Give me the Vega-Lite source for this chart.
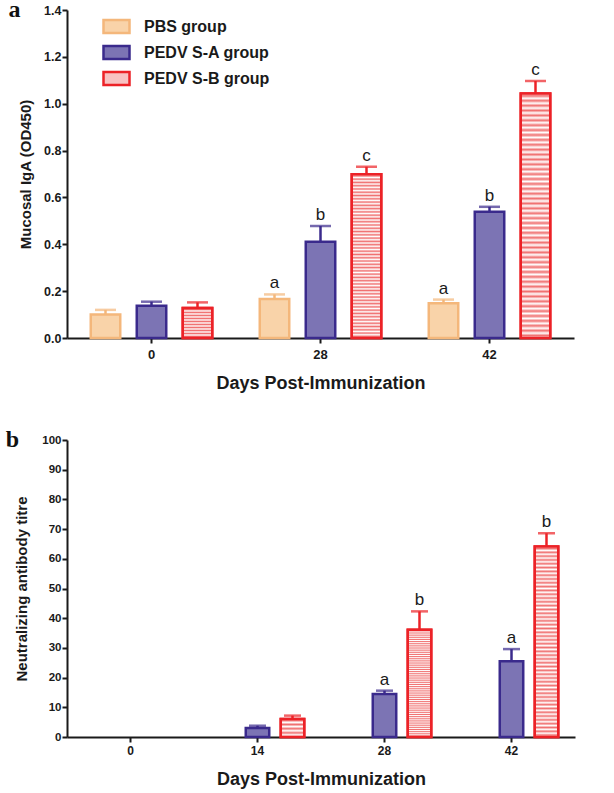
{
  "$schema": "https://vega.github.io/schema/vega-lite/v6.json",
  "padding": {"left": 5, "top": -2, "right": 5, "bottom": 5},
  "spacing": 36,
  "config": {
    "font": "Liberation Sans",
    "view": {"stroke": null},
    "axis": {
      "grid": false,
      "domainColor": "#1a1a1a",
      "domainWidth": 2,
      "tickColor": "#1a1a1a",
      "tickWidth": 2,
      "tickSize": 5,
      "labelColor": "#1a1a1a",
      "labelFont": "Liberation Sans",
      "labelFontWeight": "bold",
      "labelOverlap": false,
      "titleColor": "#1a1a1a",
      "titleFont": "Liberation Sans",
      "titleFontWeight": "bold"
    }
  },
  "datasets": {
    "iga": [
      {"day": "0", "group": "PBS group", "mean": 0.10, "upper": 0.12, "letter": ""},
      {"day": "0", "group": "PEDV S-A group", "mean": 0.138, "upper": 0.155, "letter": ""},
      {"day": "0", "group": "PEDV S-B group", "mean": 0.128, "upper": 0.152, "letter": ""},
      {"day": "28", "group": "PBS group", "mean": 0.166, "upper": 0.186, "letter": "a"},
      {"day": "28", "group": "PEDV S-A group", "mean": 0.411, "upper": 0.478, "letter": "b"},
      {"day": "28", "group": "PEDV S-B group", "mean": 0.699, "upper": 0.731, "letter": "c"},
      {"day": "42", "group": "PBS group", "mean": 0.148, "upper": 0.164, "letter": "a"},
      {"day": "42", "group": "PEDV S-A group", "mean": 0.539, "upper": 0.560, "letter": "b"},
      {"day": "42", "group": "PEDV S-B group", "mean": 1.044, "upper": 1.097, "letter": "c"}
    ],
    "nab": [
      {"day": "14", "group": "PEDV S-A group", "mean": 3.0, "upper": 3.8, "letter": ""},
      {"day": "14", "group": "PEDV S-B group", "mean": 6.1, "upper": 7.2, "letter": ""},
      {"day": "28", "group": "PEDV S-A group", "mean": 14.5, "upper": 15.6, "letter": "a"},
      {"day": "28", "group": "PEDV S-B group", "mean": 36.1, "upper": 42.3, "letter": "b"},
      {"day": "42", "group": "PEDV S-A group", "mean": 25.5, "upper": 29.6, "letter": "a"},
      {"day": "42", "group": "PEDV S-B group", "mean": 64.1, "upper": 68.6, "letter": "b"}
    ]
  },
  "resolve": {
    "scale": {"fill": "independent", "stroke": "independent", "color": "independent", "x": "independent", "y": "independent", "xOffset": "independent"},
    "legend": {"fill": "independent", "stroke": "independent", "color": "independent"}
  },
  "vconcat": [
    {
      "width": 507,
      "height": 328,
      "title": {"text": "a", "font": "Liberation Serif", "fontSize": 24, "fontWeight": "bold", "color": "#111", "anchor": "start", "frame": "bounds", "orient": "top", "offset": -18, "dx": -10},
      "data": {"name": "iga"},
      "encoding": {
        "x": {"field": "day", "type": "nominal", "sort": ["0", "28", "42"], "scale": {"paddingInner": 0, "paddingOuter": 0},
              "axis": {"title": "Days Post-Immunization", "labelAngle": 0, "labelFontSize": 13, "labelPadding": 5, "titleFontSize": 18, "titlePadding": 13}},
        "xOffset": {"field": "group", "type": "nominal", "scale": {"domain": ["PBS group", "PEDV S-A group", "PEDV S-B group"], "paddingInner": 0.359, "paddingOuter": 0.5165}}
      },
      "layer": [
        {
          "mark": {"type": "bar", "strokeWidth": 2.5},
          "encoding": {
            "y": {"field": "mean", "type": "quantitative", "scale": {"domain": [0, 1.4]},
                  "axis": {"title": "Mucosal IgA (OD450)", "values": [0, 0.2, 0.4, 0.6, 0.8, 1.0, 1.2, 1.4], "format": ".1f", "labelOverlap": false, "labelFontSize": 12.5, "labelPadding": 1, "titleFontSize": 15, "titlePadding": 10}},
            "fill": {"field": "group", "type": "nominal", "scale": {"domain": ["PBS group", "PEDV S-A group", "PEDV S-B group"], "range": ["#f9d3a9", "#7c74b4", "#f8c2c2"]},
                     "legend": {"title": null, "orient": "none", "legendX": 35, "legendY": 2, "padding": 0, "symbolType": "M-1,-0.5H1V0.5H-1Z", "symbolSize": 676, "symbolStrokeWidth": 2.5, "labelFont": "Liberation Sans", "labelFontSize": 16, "labelFontWeight": "bold", "labelColor": "#1a1a1a", "labelOffset": 13, "rowPadding": -4}},
            "stroke": {"field": "group", "type": "nominal", "scale": {"domain": ["PBS group", "PEDV S-A group", "PEDV S-B group"], "range": ["#f4b77b", "#3a2a8c", "#ec2227"]},
                       "legend": {"title": null, "orient": "none", "legendX": 35, "legendY": 2, "padding": 0, "symbolType": "M-1,-0.5H1V0.5H-1Z", "symbolSize": 676, "symbolStrokeWidth": 2.5, "labelFont": "Liberation Sans", "labelFontSize": 16, "labelFontWeight": "bold", "labelColor": "#1a1a1a", "labelOffset": 13, "rowPadding": -4}}
          }
        },
        {
          "transform": [{"filter": "datum.group === 'PEDV S-B group'"}],
          "mark": {"type": "bar", "strokeWidth": 2.5, "stroke": "#ec2227",
                   "fill": {"gradient": "linear", "x1": 0, "y1": 0, "x2": 0, "y2": 1, "stops": [
                     {"offset": 0.00, "color": "#ffffff"}, {"offset": 0.01, "color": "#f07070"}, {"offset": 0.02, "color": "#ffffff"}, {"offset": 0.03, "color": "#f07070"}, {"offset": 0.04, "color": "#ffffff"}, {"offset": 0.05, "color": "#f07070"}, {"offset": 0.06, "color": "#ffffff"}, {"offset": 0.07, "color": "#f07070"}, {"offset": 0.08, "color": "#ffffff"}, {"offset": 0.09, "color": "#f07070"},
                     {"offset": 0.10, "color": "#ffffff"}, {"offset": 0.11, "color": "#f07070"}, {"offset": 0.12, "color": "#ffffff"}, {"offset": 0.13, "color": "#f07070"}, {"offset": 0.14, "color": "#ffffff"}, {"offset": 0.15, "color": "#f07070"}, {"offset": 0.16, "color": "#ffffff"}, {"offset": 0.17, "color": "#f07070"}, {"offset": 0.18, "color": "#ffffff"}, {"offset": 0.19, "color": "#f07070"},
                     {"offset": 0.20, "color": "#ffffff"}, {"offset": 0.21, "color": "#f07070"}, {"offset": 0.22, "color": "#ffffff"}, {"offset": 0.23, "color": "#f07070"}, {"offset": 0.24, "color": "#ffffff"}, {"offset": 0.25, "color": "#f07070"}, {"offset": 0.26, "color": "#ffffff"}, {"offset": 0.27, "color": "#f07070"}, {"offset": 0.28, "color": "#ffffff"}, {"offset": 0.29, "color": "#f07070"},
                     {"offset": 0.30, "color": "#ffffff"}, {"offset": 0.31, "color": "#f07070"}, {"offset": 0.32, "color": "#ffffff"}, {"offset": 0.33, "color": "#f07070"}, {"offset": 0.34, "color": "#ffffff"}, {"offset": 0.35, "color": "#f07070"}, {"offset": 0.36, "color": "#ffffff"}, {"offset": 0.37, "color": "#f07070"}, {"offset": 0.38, "color": "#ffffff"}, {"offset": 0.39, "color": "#f07070"},
                     {"offset": 0.40, "color": "#ffffff"}, {"offset": 0.41, "color": "#f07070"}, {"offset": 0.42, "color": "#ffffff"}, {"offset": 0.43, "color": "#f07070"}, {"offset": 0.44, "color": "#ffffff"}, {"offset": 0.45, "color": "#f07070"}, {"offset": 0.46, "color": "#ffffff"}, {"offset": 0.47, "color": "#f07070"}, {"offset": 0.48, "color": "#ffffff"}, {"offset": 0.49, "color": "#f07070"},
                     {"offset": 0.50, "color": "#ffffff"}, {"offset": 0.51, "color": "#f07070"}, {"offset": 0.52, "color": "#ffffff"}, {"offset": 0.53, "color": "#f07070"}, {"offset": 0.54, "color": "#ffffff"}, {"offset": 0.55, "color": "#f07070"}, {"offset": 0.56, "color": "#ffffff"}, {"offset": 0.57, "color": "#f07070"}, {"offset": 0.58, "color": "#ffffff"}, {"offset": 0.59, "color": "#f07070"},
                     {"offset": 0.60, "color": "#ffffff"}, {"offset": 0.61, "color": "#f07070"}, {"offset": 0.62, "color": "#ffffff"}, {"offset": 0.63, "color": "#f07070"}, {"offset": 0.64, "color": "#ffffff"}, {"offset": 0.65, "color": "#f07070"}, {"offset": 0.66, "color": "#ffffff"}, {"offset": 0.67, "color": "#f07070"}, {"offset": 0.68, "color": "#ffffff"}, {"offset": 0.69, "color": "#f07070"},
                     {"offset": 0.70, "color": "#ffffff"}, {"offset": 0.71, "color": "#f07070"}, {"offset": 0.72, "color": "#ffffff"}, {"offset": 0.73, "color": "#f07070"}, {"offset": 0.74, "color": "#ffffff"}, {"offset": 0.75, "color": "#f07070"}, {"offset": 0.76, "color": "#ffffff"}, {"offset": 0.77, "color": "#f07070"}, {"offset": 0.78, "color": "#ffffff"}, {"offset": 0.79, "color": "#f07070"},
                     {"offset": 0.80, "color": "#ffffff"}, {"offset": 0.81, "color": "#f07070"}, {"offset": 0.82, "color": "#ffffff"}, {"offset": 0.83, "color": "#f07070"}, {"offset": 0.84, "color": "#ffffff"}, {"offset": 0.85, "color": "#f07070"}, {"offset": 0.86, "color": "#ffffff"}, {"offset": 0.87, "color": "#f07070"}, {"offset": 0.88, "color": "#ffffff"}, {"offset": 0.89, "color": "#f07070"},
                     {"offset": 0.90, "color": "#ffffff"}, {"offset": 0.91, "color": "#f07070"}, {"offset": 0.92, "color": "#ffffff"}, {"offset": 0.93, "color": "#f07070"}, {"offset": 0.94, "color": "#ffffff"}, {"offset": 0.95, "color": "#f07070"}, {"offset": 0.96, "color": "#ffffff"}, {"offset": 0.97, "color": "#f07070"}, {"offset": 0.98, "color": "#ffffff"}, {"offset": 0.99, "color": "#f07070"},
                     {"offset": 1.00, "color": "#ffffff"}
                   ]}},
          "encoding": {"y": {"field": "mean", "type": "quantitative",
                  "axis": {"title": "Mucosal IgA (OD450)", "values": [0, 0.2, 0.4, 0.6, 0.8, 1.0, 1.2, 1.4], "format": ".1f", "labelOverlap": false, "labelFontSize": 12.5, "labelPadding": 1, "titleFontSize": 15, "titlePadding": 10}}}
        },
        {
          "mark": {"type": "rule", "strokeWidth": 2.5},
          "encoding": {
            "y": {"field": "mean", "type": "quantitative",
                  "axis": {"title": "Mucosal IgA (OD450)", "values": [0, 0.2, 0.4, 0.6, 0.8, 1.0, 1.2, 1.4], "format": ".1f", "labelOverlap": false, "labelFontSize": 12.5, "labelPadding": 1, "titleFontSize": 15, "titlePadding": 10}},
            "y2": {"field": "upper"},
            "stroke": {"field": "group", "type": "nominal"}
          }
        },
        {
          "mark": {"type": "tick", "thickness": 2.5, "size": 21},
          "encoding": {
            "y": {"field": "upper", "type": "quantitative",
                  "axis": {"title": "Mucosal IgA (OD450)", "values": [0, 0.2, 0.4, 0.6, 0.8, 1.0, 1.2, 1.4], "format": ".1f", "labelOverlap": false, "labelFontSize": 12.5, "labelPadding": 1, "titleFontSize": 15, "titlePadding": 10}},
            "color": {"field": "group", "type": "nominal", "scale": {"domain": ["PBS group", "PEDV S-A group", "PEDV S-B group"], "range": ["#f4b77b", "#3a2a8c", "#ec2227"]}, "legend": null}
          }
        },
        {
          "mark": {"type": "text", "fontSize": 17, "dy": -6, "baseline": "alphabetic", "color": "#1a1a1a", "font": "Liberation Sans"},
          "encoding": {
            "y": {"field": "upper", "type": "quantitative",
                  "axis": {"title": "Mucosal IgA (OD450)", "values": [0, 0.2, 0.4, 0.6, 0.8, 1.0, 1.2, 1.4], "format": ".1f", "labelOverlap": false, "labelFontSize": 12.5, "labelPadding": 1, "titleFontSize": 15, "titlePadding": 10}},
            "text": {"field": "letter"}
          }
        }
      ]
    },
    {
      "width": 508,
      "height": 297,
      "title": {"text": "b", "font": "Liberation Serif", "fontSize": 24, "fontWeight": "bold", "color": "#111", "anchor": "start", "frame": "bounds", "orient": "top", "offset": -18, "dx": -9},
      "data": {"name": "nab"},
      "encoding": {
        "x": {"field": "day", "type": "nominal", "scale": {"domain": ["0", "14", "28", "42"], "paddingInner": 0, "paddingOuter": 0},
              "axis": {"title": "Days Post-Immunization", "labelAngle": 0, "labelFontSize": 12, "labelPadding": 3, "titleFontSize": 18, "titlePadding": 14}},
        "xOffset": {"field": "group", "type": "nominal", "scale": {"domain": ["PBS group", "PEDV S-A group", "PEDV S-B group"], "paddingInner": 0.329, "paddingOuter": 0.479}}
      },
      "layer": [
        {
          "mark": {"type": "bar", "strokeWidth": 2.5},
          "encoding": {
            "y": {"field": "mean", "type": "quantitative", "scale": {"domain": [0, 100]},
                  "axis": {"title": "Neutralizing antibody titre", "values": [0, 10, 20, 30, 40, 50, 60, 70, 80, 90, 100], "labelOverlap": false, "labelFontSize": 11.5, "labelPadding": 1, "titleFontSize": 15, "titlePadding": 12}},
            "fill": {"field": "group", "type": "nominal", "scale": {"domain": ["PBS group", "PEDV S-A group", "PEDV S-B group"], "range": ["#f9d3a9", "#7c74b4", "#f8c2c2"]}, "legend": null},
            "stroke": {"field": "group", "type": "nominal", "scale": {"domain": ["PBS group", "PEDV S-A group", "PEDV S-B group"], "range": ["#f4b77b", "#3a2a8c", "#ec2227"]}, "legend": null}
          }
        },
        {
          "transform": [{"filter": "datum.group === 'PEDV S-B group'"}],
          "mark": {"type": "bar", "strokeWidth": 2.5, "stroke": "#ec2227",
                   "fill": {"gradient": "linear", "x1": 0, "y1": 0, "x2": 0, "y2": 1, "stops": [
                     {"offset": 0.00, "color": "#ffffff"}, {"offset": 0.01, "color": "#f07070"}, {"offset": 0.02, "color": "#ffffff"}, {"offset": 0.03, "color": "#f07070"}, {"offset": 0.04, "color": "#ffffff"}, {"offset": 0.05, "color": "#f07070"}, {"offset": 0.06, "color": "#ffffff"}, {"offset": 0.07, "color": "#f07070"}, {"offset": 0.08, "color": "#ffffff"}, {"offset": 0.09, "color": "#f07070"},
                     {"offset": 0.10, "color": "#ffffff"}, {"offset": 0.11, "color": "#f07070"}, {"offset": 0.12, "color": "#ffffff"}, {"offset": 0.13, "color": "#f07070"}, {"offset": 0.14, "color": "#ffffff"}, {"offset": 0.15, "color": "#f07070"}, {"offset": 0.16, "color": "#ffffff"}, {"offset": 0.17, "color": "#f07070"}, {"offset": 0.18, "color": "#ffffff"}, {"offset": 0.19, "color": "#f07070"},
                     {"offset": 0.20, "color": "#ffffff"}, {"offset": 0.21, "color": "#f07070"}, {"offset": 0.22, "color": "#ffffff"}, {"offset": 0.23, "color": "#f07070"}, {"offset": 0.24, "color": "#ffffff"}, {"offset": 0.25, "color": "#f07070"}, {"offset": 0.26, "color": "#ffffff"}, {"offset": 0.27, "color": "#f07070"}, {"offset": 0.28, "color": "#ffffff"}, {"offset": 0.29, "color": "#f07070"},
                     {"offset": 0.30, "color": "#ffffff"}, {"offset": 0.31, "color": "#f07070"}, {"offset": 0.32, "color": "#ffffff"}, {"offset": 0.33, "color": "#f07070"}, {"offset": 0.34, "color": "#ffffff"}, {"offset": 0.35, "color": "#f07070"}, {"offset": 0.36, "color": "#ffffff"}, {"offset": 0.37, "color": "#f07070"}, {"offset": 0.38, "color": "#ffffff"}, {"offset": 0.39, "color": "#f07070"},
                     {"offset": 0.40, "color": "#ffffff"}, {"offset": 0.41, "color": "#f07070"}, {"offset": 0.42, "color": "#ffffff"}, {"offset": 0.43, "color": "#f07070"}, {"offset": 0.44, "color": "#ffffff"}, {"offset": 0.45, "color": "#f07070"}, {"offset": 0.46, "color": "#ffffff"}, {"offset": 0.47, "color": "#f07070"}, {"offset": 0.48, "color": "#ffffff"}, {"offset": 0.49, "color": "#f07070"},
                     {"offset": 0.50, "color": "#ffffff"}, {"offset": 0.51, "color": "#f07070"}, {"offset": 0.52, "color": "#ffffff"}, {"offset": 0.53, "color": "#f07070"}, {"offset": 0.54, "color": "#ffffff"}, {"offset": 0.55, "color": "#f07070"}, {"offset": 0.56, "color": "#ffffff"}, {"offset": 0.57, "color": "#f07070"}, {"offset": 0.58, "color": "#ffffff"}, {"offset": 0.59, "color": "#f07070"},
                     {"offset": 0.60, "color": "#ffffff"}, {"offset": 0.61, "color": "#f07070"}, {"offset": 0.62, "color": "#ffffff"}, {"offset": 0.63, "color": "#f07070"}, {"offset": 0.64, "color": "#ffffff"}, {"offset": 0.65, "color": "#f07070"}, {"offset": 0.66, "color": "#ffffff"}, {"offset": 0.67, "color": "#f07070"}, {"offset": 0.68, "color": "#ffffff"}, {"offset": 0.69, "color": "#f07070"},
                     {"offset": 0.70, "color": "#ffffff"}, {"offset": 0.71, "color": "#f07070"}, {"offset": 0.72, "color": "#ffffff"}, {"offset": 0.73, "color": "#f07070"}, {"offset": 0.74, "color": "#ffffff"}, {"offset": 0.75, "color": "#f07070"}, {"offset": 0.76, "color": "#ffffff"}, {"offset": 0.77, "color": "#f07070"}, {"offset": 0.78, "color": "#ffffff"}, {"offset": 0.79, "color": "#f07070"},
                     {"offset": 0.80, "color": "#ffffff"}, {"offset": 0.81, "color": "#f07070"}, {"offset": 0.82, "color": "#ffffff"}, {"offset": 0.83, "color": "#f07070"}, {"offset": 0.84, "color": "#ffffff"}, {"offset": 0.85, "color": "#f07070"}, {"offset": 0.86, "color": "#ffffff"}, {"offset": 0.87, "color": "#f07070"}, {"offset": 0.88, "color": "#ffffff"}, {"offset": 0.89, "color": "#f07070"},
                     {"offset": 0.90, "color": "#ffffff"}, {"offset": 0.91, "color": "#f07070"}, {"offset": 0.92, "color": "#ffffff"}, {"offset": 0.93, "color": "#f07070"}, {"offset": 0.94, "color": "#ffffff"}, {"offset": 0.95, "color": "#f07070"}, {"offset": 0.96, "color": "#ffffff"}, {"offset": 0.97, "color": "#f07070"}, {"offset": 0.98, "color": "#ffffff"}, {"offset": 0.99, "color": "#f07070"},
                     {"offset": 1.00, "color": "#ffffff"}
                   ]}},
          "encoding": {"y": {"field": "mean", "type": "quantitative",
                  "axis": {"title": "Neutralizing antibody titre", "values": [0, 10, 20, 30, 40, 50, 60, 70, 80, 90, 100], "labelOverlap": false, "labelFontSize": 11.5, "labelPadding": 1, "titleFontSize": 15, "titlePadding": 12}}}
        },
        {
          "mark": {"type": "rule", "strokeWidth": 2.5},
          "encoding": {
            "y": {"field": "mean", "type": "quantitative",
                  "axis": {"title": "Neutralizing antibody titre", "values": [0, 10, 20, 30, 40, 50, 60, 70, 80, 90, 100], "labelOverlap": false, "labelFontSize": 11.5, "labelPadding": 1, "titleFontSize": 15, "titlePadding": 12}},
            "y2": {"field": "upper"},
            "stroke": {"field": "group", "type": "nominal"}
          }
        },
        {
          "mark": {"type": "tick", "thickness": 2.5, "size": 17},
          "encoding": {
            "y": {"field": "upper", "type": "quantitative",
                  "axis": {"title": "Neutralizing antibody titre", "values": [0, 10, 20, 30, 40, 50, 60, 70, 80, 90, 100], "labelOverlap": false, "labelFontSize": 11.5, "labelPadding": 1, "titleFontSize": 15, "titlePadding": 12}},
            "color": {"field": "group", "type": "nominal", "scale": {"domain": ["PBS group", "PEDV S-A group", "PEDV S-B group"], "range": ["#f4b77b", "#3a2a8c", "#ec2227"]}, "legend": null}
          }
        },
        {
          "mark": {"type": "text", "fontSize": 17, "dy": -6, "baseline": "alphabetic", "color": "#1a1a1a", "font": "Liberation Sans"},
          "encoding": {
            "y": {"field": "upper", "type": "quantitative",
                  "axis": {"title": "Neutralizing antibody titre", "values": [0, 10, 20, 30, 40, 50, 60, 70, 80, 90, 100], "labelOverlap": false, "labelFontSize": 11.5, "labelPadding": 1, "titleFontSize": 15, "titlePadding": 12}},
            "text": {"field": "letter"}
          }
        }
      ]
    }
  ]
}
